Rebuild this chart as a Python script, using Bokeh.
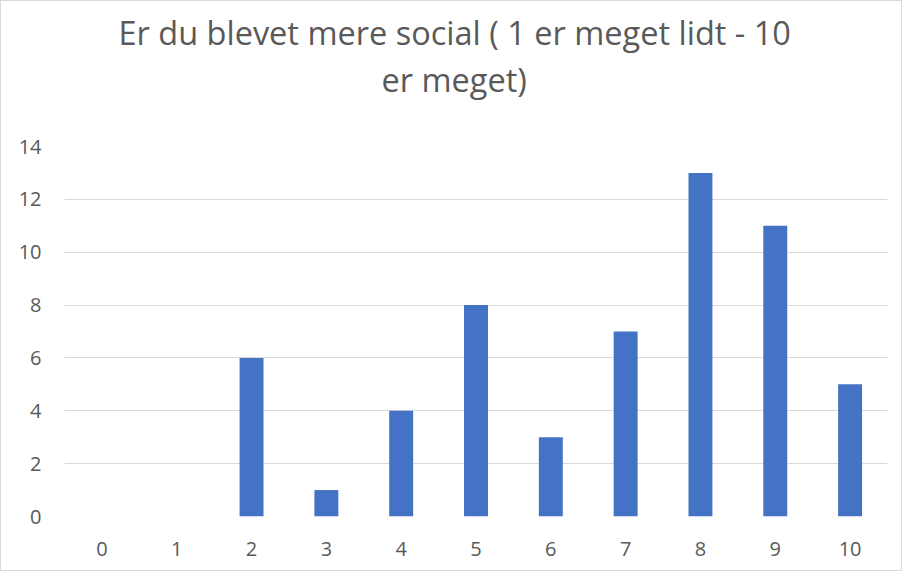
from bokeh.plotting import figure
from bokeh.models import FactorRange, Range1d, SingleIntervalTicker, Title
from bokeh.embed import file_html
from bokeh.resources import INLINE

categories = ["0", "1", "2", "3", "4", "5", "6", "7", "8", "9", "10"]
values = [0, 0, 6, 1, 4, 8, 3, 7, 13, 11, 5]
title_lines = ["Er du blevet mere social ( 1 er meget lidt - 10", "er meget)"]
title_offsets = [54, 317]

p = figure(width=902, height=571, x_range=FactorRange(*categories),
           y_range=Range1d(0, 14), output_backend="svg", toolbar_location=None,
           min_border_left=63, min_border_right=16, min_border_top=145,
           min_border_bottom=56, title=None)
p.styles = {"border": "1px solid #d9d9d9"}

p.vbar(x=categories, top=values, width=0.32, fill_color="#4472C4", line_color=None)

# spacer nearest the frame, then second line, then first line
p.add_layout(Title(text=" ", text_font="Open Sans", text_font_size="32px", standoff=0), "above")
for txt, off in zip(reversed(title_lines), reversed(title_offsets)):
    t = Title(text=txt, align="left", offset=off, text_font="Open Sans",
              text_font_size="32.5px", text_font_style="normal",
              text_color="#595959", standoff=0)
    p.add_layout(t, "above")

p.outline_line_color = None
p.xgrid.grid_line_color = None
p.ygrid.grid_line_color = "#d9d9d9"
p.ygrid.grid_line_width = 1
p.yaxis.ticker = SingleIntervalTicker(interval=2)

for ax in (p.xaxis, p.yaxis):
    ax.axis_line_color = None
    ax.major_tick_line_color = None
    ax.minor_tick_line_color = None
    ax.major_tick_out = 0
    ax.major_tick_in = 0
    ax.major_label_text_font = "Open Sans"
    ax.major_label_text_font_size = "20px"
    ax.major_label_text_color = "#595959"
p.xaxis.major_label_standoff = 25
p.yaxis.major_label_standoff = 19

open("out.html", "w").write(file_html(p, INLINE))
